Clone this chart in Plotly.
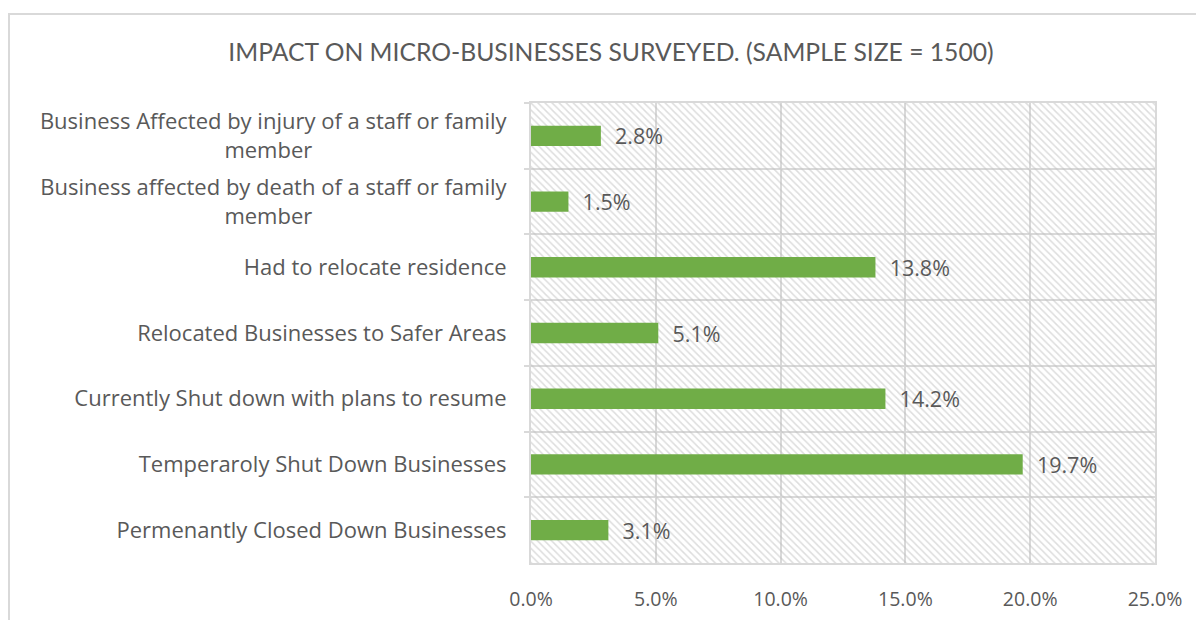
import plotly.graph_objects as go

# data, top to bottom as in the chart
NB = "\u00a0"
categories = [
    "Business Affected by injury of a staff or family<br>member" + NB * 34,
    "Business affected by death of a staff or family<br>member" + NB * 34,
    "Had to relocate residence",
    "Relocated Businesses to Safer Areas",
    "Currently Shut down with plans to resume",
    "Temperaroly Shut Down Businesses",
    "Permenantly Closed Down Businesses",
]
values = [0.028, 0.015, 0.138, 0.051, 0.142, 0.197, 0.031]
x_max = 0.25

grey = "#d9d9d9"
text_grey = "#595959"
body_font = "'Open Sans', Lato, sans-serif"
title_font = "Lato, 'Open Sans', sans-serif"

fig = go.Figure()

# hatched plot-area background
fig.add_trace(go.Bar(
    y=categories,
    x=[x_max] * len(categories),
    orientation="h",
    width=1,
    marker=dict(
        color="rgba(0,0,0,0)",
        line=dict(width=0),
        pattern=dict(shape="\\", fgcolor="#bcbcbc", bgcolor="rgba(0,0,0,0)",
                     size=5, solidity=0.3, fillmode="overlay"),
    ),
    hoverinfo="skip",
    showlegend=False,
))

fig.add_trace(go.Bar(
    y=categories,
    x=values,
    orientation="h",
    width=0.31,
    marker=dict(color="#70AD47", line=dict(width=0)),
    texttemplate=NB * 2 + "%{x:.1%}",
    textposition="outside",
    constraintext="none",
    textfont=dict(size=21.5, color=text_grey, family=body_font),
    cliponaxis=False,
    showlegend=False,
))

fig.update_layout(
    width=1204,
    height=620,
    barmode="overlay",
    paper_bgcolor="white",
    plot_bgcolor="white",
    margin=dict(l=523, r=57, t=95, b=65),
    font=dict(family=body_font, color=text_grey),
    title=dict(
        text="IMPACT ON MICRO-BUSINESSES SURVEYED. (SAMPLE SIZE = 1500)",
        x=603 / 1204, xanchor="center",
        y=1 - 44 / 620, yanchor="middle",
        font=dict(size=24.7, color=text_grey, family=title_font),
    ),
    xaxis=dict(
        range=[0, x_max],
        dtick=0.05,
        tickformat=".1%",
        showgrid=True,
        gridcolor=grey,
        gridwidth=2,
        zeroline=False,
        showline=True,
        mirror=True,
        linecolor=grey,
        linewidth=2,
        ticks="",
        tickfont=dict(size=19.5, color=text_grey, family=body_font),
        ticklabelstandoff=18,
    ),
    yaxis=dict(
        autorange="reversed",
        tickson="boundaries",
        showgrid=True,
        gridcolor=grey,
        gridwidth=2,
        showline=True,
        mirror=True,
        linecolor=grey,
        linewidth=2,
        ticks="outside",
        ticklen=5,
        tickwidth=2,
        tickcolor=grey,
        tickfont=dict(size=22, color=text_grey, family=body_font),
        ticklabelstandoff=18,
    ),
    shapes=[dict(
        type="rect", xref="paper", yref="paper",
        x0=(1 - 523) / 624, x1=1.3,
        y0=-0.4, y1=(555 - 6) / 460,
        line=dict(color=grey, width=2),
        fillcolor="rgba(0,0,0,0)",
        layer="below",
    )],
)

fig.write_html("out.html")
